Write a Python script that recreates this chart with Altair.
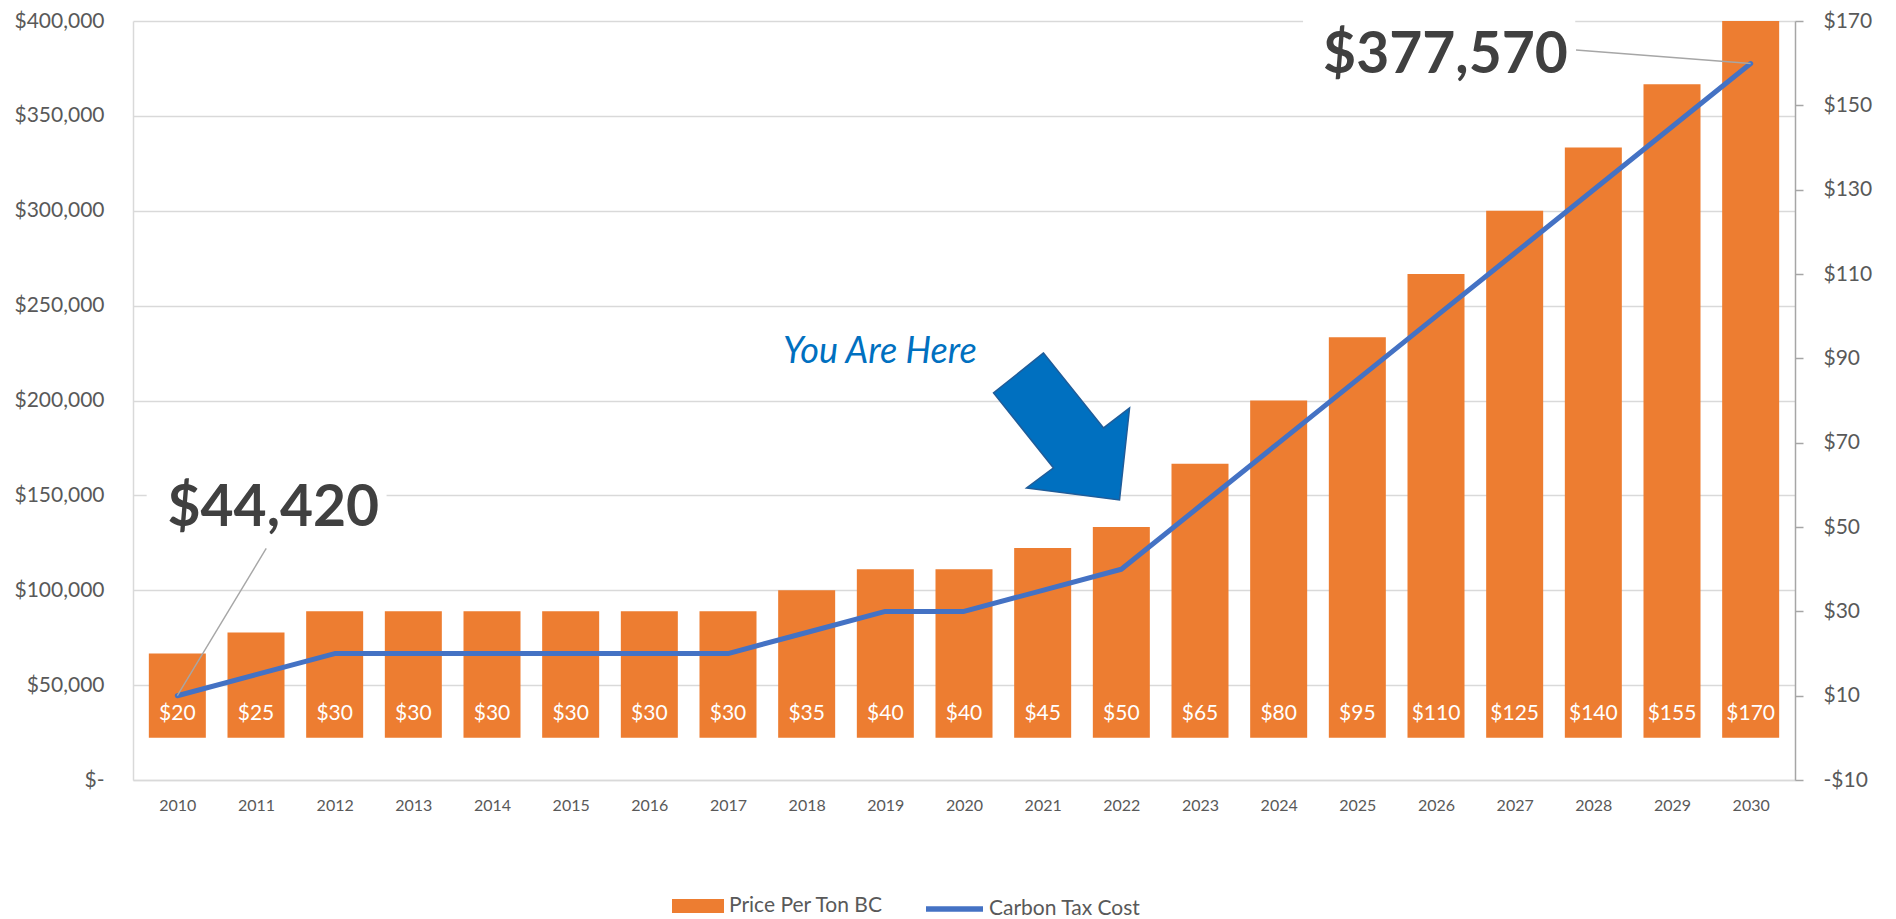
import altair as alt
import pandas as pd

FONT = "Lato"

# ---- data -------------------------------------------------------------
years = [2010, 2011, 2012, 2013, 2014, 2015, 2016, 2017, 2018, 2019, 2020,
         2021, 2022, 2023, 2024, 2025, 2026, 2027, 2028, 2029, 2030]
price_per_ton = [20, 25, 30, 30, 30, 30, 30, 30, 35, 40, 40,
                 45, 50, 65, 80, 95, 110, 125, 140, 155, 170]
carbon_tax_cost = [44420, 55525, 66630, 66630, 66630, 66630, 66630, 66630,
                   77735, 88840, 88840, 99945, 111050, 144365, 177680,
                   210995, 244310, 277625, 310940, 344255, 377570]

left_ticks = [0, 50000, 100000, 150000, 200000, 250000, 300000, 350000, 400000]
right_ticks = [-10, 10, 30, 50, 70, 90, 110, 130, 150, 170]

# annotations (data coordinates: year, left-axis value)
callout_text = ["$44,420", "$377,570"]
callout_year = [2011.22, 2026.12]
callout_value = [133700, 372600]

callout_box_year1 = [2009.61, 2024.31]
callout_box_year2 = [2012.66, 2027.77]
callout_box_value1 = [128900, 362100]
callout_box_value2 = [160500, 406300]

leader_year1 = [2011.13, 2027.78]
leader_value1 = [122100, 384700]
leader_year2 = [2010, 2030]
leader_value2 = [44420, 377570]

note_text = ["You Are Here"]
note_year = [2018.93]
note_value = [219500]

arrow_year = [2021.24]
arrow_value = [186600]

# ---- tables -------------------------------------------------------------
df = pd.DataFrame({"year": years, "price": price_per_ton, "cost": carbon_tax_cost})
callouts = pd.DataFrame({"text": callout_text, "year": callout_year, "value": callout_value})
boxes = pd.DataFrame({"y1": callout_box_year1, "y2": callout_box_year2,
                      "v1": callout_box_value1, "v2": callout_box_value2})
leaders = pd.DataFrame({"y1": leader_year1, "y2": leader_year2,
                        "v1": leader_value1, "v2": leader_value2})
notes = pd.DataFrame({"text": note_text, "year": note_year, "value": note_value})
arrows = pd.DataFrame({"year": arrow_year, "value": arrow_value})

# ---- scales / axes ------------------------------------------------------
X_SCALE = alt.Scale(domain=[2009.5, 2030.5], nice=False, zero=False)
X_AXIS = alt.Axis(values=years, format="d", title=None, grid=False, ticks=False,
                  tickSize=0, domainColor="#D9D9D9", domainWidth=1.5,
                  labelFont=FONT, labelFontSize=16, labelColor="#595959",
                  labelPadding=17, labelFlush=False)

L_SCALE = alt.Scale(domain=[0, 400000], nice=False, zero=True)
L_AXIS = alt.Axis(orient="left", values=left_ticks, title=None,
                  labelExpr="datum.value == 0 ? '$-\u00a0\u00a0' : '$' + format(datum.value, ',')",
                  grid=True, gridColor="#D9D9D9", gridWidth=1.3,
                  ticks=False, tickSize=0, domainColor="#D9D9D9", domainWidth=1.5,
                  labelFont=FONT, labelFontSize=21, labelColor="#595959",
                  labelPadding=29)

R_SCALE = alt.Scale(domain=[-10, 170], nice=False, zero=False)
R_AXIS = alt.Axis(orient="right", values=right_ticks, title=None,
                  labelExpr="datum.value < 0 ? '-$' + abs(datum.value) : '$' + datum.value",
                  grid=False, domainColor="#A6A6A6", domainWidth=1.5,
                  ticks=True, tickColor="#A6A6A6", tickSize=8, tickWidth=1.5,
                  labelFont=FONT, labelFontSize=21, labelColor="#595959",
                  labelPadding=20)


def X(field):
    return alt.X(f"{field}:Q", scale=X_SCALE, axis=X_AXIS)


def YL(field):
    return alt.Y(f"{field}:Q", scale=L_SCALE, axis=L_AXIS)


def YR(field):
    return alt.Y(f"{field}:Q", scale=R_SCALE, axis=R_AXIS)


# ---- right-axis layers (bars) --------------------------------------------
bars = alt.Chart(df).transform_calculate(
    series="'Price Per Ton BC'"
).mark_bar(width=57).encode(
    x=X("year"),
    y=YR("price"),
    fill=alt.Fill("series:N",
                  scale=alt.Scale(domain=["Price Per Ton BC"], range=["#ED7D31"]),
                  legend=alt.Legend(orient="none", legendX=539, legendY=859,
                                    title=None, symbolType="M-1,-0.269H1V0.269H-1Z",
                                    symbolSize=2704, symbolStrokeWidth=0,
                                    labelFont=FONT, labelFontSize=21,
                                    labelColor="#595959", labelOffset=5)),
)

bar_labels = alt.Chart(df).transform_calculate(
    base="0", label="'$' + datum.price"
).mark_text(font=FONT, fontSize=21, color="white", align="center",
            baseline="alphabetic", dy=-17.7).encode(
    x=X("year"),
    y=YR("base"),
    text="label:N",
)

right = alt.layer(bars, bar_labels)

# ---- left-axis layers (line + annotations) -------------------------------
line = alt.Chart(df).transform_calculate(
    series="'Carbon Tax Cost'"
).mark_line(strokeWidth=5, strokeCap="round", strokeJoin="round").encode(
    x=X("year"),
    y=YL("cost"),
    stroke=alt.Stroke("series:N",
                      scale=alt.Scale(domain=["Carbon Tax Cost"], range=["#4472C4"]),
                      legend=alt.Legend(orient="none", legendX=790, legendY=856.5,
                                        title=None, symbolType="stroke",
                                        symbolSize=3249, symbolStrokeWidth=5.5,
                                        labelFont=FONT, labelFontSize=21,
                                        labelColor="#595959", labelOffset=3)),
)

box_layer = alt.Chart(boxes).mark_rect(color="white").encode(
    x=X("y1"), x2="y2:Q", y=YL("v1"), y2="v2:Q"
)

leader_layer = alt.Chart(leaders).mark_rule(color="#A6A6A6", strokeWidth=1.4).encode(
    x=X("y1"), x2="y2:Q", y=YL("v1"), y2="v2:Q"
)

callout_layer = alt.Chart(callouts).mark_text(
    font=FONT, fontSize=57, fontWeight="bold", color="#404040",
    align="center", baseline="alphabetic"
).encode(x=X("year"), y=YL("value"), text="text:N")

note_layer = alt.Chart(notes).mark_text(
    font=FONT, fontSize=36, fontStyle="italic", color="#0070C0",
    align="center", baseline="alphabetic"
).encode(x=X("year"), y=YL("value"), text="text:N")

ARROW_PATH = ("M -0.24 -0.973 L -0.907 -0.44 L -0.107 0.56 L -0.467 0.827 "
              "L 0.773 0.987 L 0.907 -0.24 L 0.56 0.027 Z")
arrow_layer = alt.Chart(arrows).mark_point(
    shape=ARROW_PATH, size=22500, filled=True, fill="#0070C0",
    stroke="#1F5C99", strokeWidth=1.5, opacity=1, fillOpacity=1
).encode(x=X("year"), y=YL("value"))

left = alt.layer(line, box_layer, leader_layer, callout_layer, note_layer, arrow_layer)

chart = alt.layer(right, left).resolve_scale(y="independent").properties(
    width=1662, height=759,
    autosize=alt.AutoSizeParams(type="none"),
    padding={"left": 125, "top": 13, "right": 85, "bottom": 139},
    background="white",
).configure_view(stroke=None)

chart.save("out.html", embed_options={"renderer": "svg", "actions": False})
